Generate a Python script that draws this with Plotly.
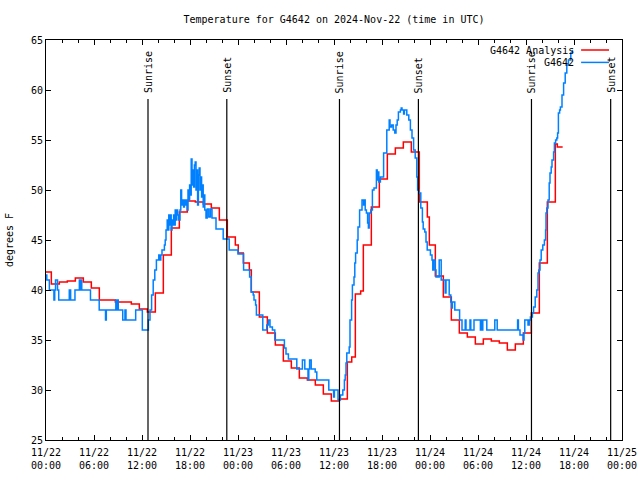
import pandas as pd
import plotly.graph_objects as go

# ---------------- data ----------------
BASE = "2024-11-22 00:00"
X_END = "2024-11-25 00:00"

tick_labels = ["11/22<br>00:00", "11/22<br>06:00", "11/22<br>12:00", "11/22<br>18:00",
               "11/23<br>00:00", "11/23<br>06:00", "11/23<br>12:00", "11/23<br>18:00",
               "11/24<br>00:00", "11/24<br>06:00", "11/24<br>12:00", "11/24<br>18:00",
               "11/25<br>00:00"]

# G4642 Analysis: hourly values, first one valid at 2024-11-21 23:40
analysis_first_time = "2024-11-21 23:40"
analysis_values = [41.8, 40.6, 40.8, 40.9, 41.2, 40.8, 40.2, 39.0, 39.0, 38.8,
                   38.8, 38.6, 38.1, 37.8, 39.7, 43.5, 46.2, 47.8, 48.9, 48.8,
                   48.6, 48.2, 47.0, 45.3, 44.5, 42.7, 39.8, 37.3, 35.7, 34.5,
                   32.9, 32.2, 31.2, 31.0, 30.5, 29.6, 28.9, 29.1, 32.8, 39.6,
                   44.5, 48.3, 51.1, 53.6, 54.2, 54.8, 53.8, 48.8, 47.3, 41.4,
                   39.3, 37.0, 35.7, 35.3, 34.6, 35.1, 34.9, 34.7, 34.0, 34.6,
                   35.7, 37.7, 42.7, 48.8, 54.6]
analysis_extra_times = ["2024-11-23 00:02", "2024-11-23 01:25", "2024-11-23 14:13",
                        "2024-11-23 15:20", "2024-11-23 23:55", "2024-11-24 15:55",
                        "2024-11-24 16:35"]
analysis_extra_values = [43.7, 42.0, 33.3, 39.9, 44.5, 54.3, 54.3]

# G4642 observations: hours after 2024-11-22 00:00 UTC
obs_hours = [0.00, 0.10, 0.42, 0.99, 1.09, 1.19, 1.44, 1.59, 2.91, 2.98,
             3.03, 3.08, 3.62, 4.17, 4.27, 4.37, 4.47, 5.56, 6.65, 7.44,
             7.54, 8.73, 8.83, 8.93, 9.03, 9.59, 9.87, 10.00, 11.21, 12.04,
             12.80, 13.00, 13.20, 13.40, 13.60, 13.80, 14.10, 14.25, 14.35, 14.50,
             14.80, 14.90, 15.00, 15.15, 15.25, 15.35, 15.45, 15.55, 15.65, 15.75,
             15.85, 15.95, 16.05, 16.15, 16.25, 16.35, 16.45, 16.60, 16.75, 16.85,
             16.95, 17.05, 17.20, 17.30, 17.40, 17.50, 17.65, 17.75, 17.85, 17.95,
             18.05, 18.15, 18.25, 18.35, 18.45, 18.55, 18.65, 18.75, 18.85, 18.95,
             19.05, 19.15, 19.25, 19.35, 19.45, 19.55, 19.65, 19.75, 19.85, 20.00,
             20.15, 20.35, 20.55, 20.75, 21.25, 22.15, 22.90, 24.00, 24.70, 25.45,
             25.65, 25.90, 26.00, 26.20, 26.30, 27.10, 27.60, 27.80, 28.00, 28.30,
             28.60, 29.80, 30.00, 30.30, 31.35, 32.05, 32.35, 32.75, 32.85, 32.95,
             33.15, 33.65, 33.85, 35.35, 35.95, 36.05, 36.50, 36.80, 37.10, 37.30,
             37.40, 37.50, 37.60, 37.90, 38.00, 38.20, 38.30, 38.50, 38.60, 38.70,
             38.90, 39.00, 39.20, 39.50, 39.70, 39.80, 39.90, 40.05, 40.20, 40.30,
             40.40, 40.60, 40.80, 41.00, 41.30, 41.40, 41.50, 41.60, 41.80, 42.20,
             42.60, 42.90, 43.00, 43.20, 43.40, 43.60, 43.75, 43.90, 44.05, 44.30,
             44.40, 44.50, 44.70, 44.80, 45.10, 45.35, 45.55, 45.75, 45.95, 46.15,
             46.35, 46.45, 46.60, 46.85, 47.05, 47.15, 47.35, 47.50, 47.65, 48.05,
             48.25, 48.35, 48.45, 48.65, 48.75, 49.15, 49.40, 49.90, 50.00, 50.40,
             50.60, 50.70, 50.80, 51.10, 51.70, 52.00, 52.40, 52.50, 53.00, 53.10,
             53.50, 54.30, 54.40, 54.50, 54.60, 55.10, 56.10, 56.40, 58.95, 59.05,
             59.25, 59.65, 59.75, 59.85, 60.25, 60.40, 60.55, 60.80, 60.95, 61.15,
             61.35, 61.50, 61.60, 61.75, 61.90, 62.10, 62.30, 62.45, 62.50, 62.60,
             62.75, 62.90, 63.00, 63.15, 63.25, 63.45, 63.55, 63.70, 63.85, 63.95,
             64.05, 64.20, 64.30, 64.50, 64.70, 64.90, 65.10, 65.30, 65.60, 65.80]
obs_values = [41.5, 41, 40, 39, 40, 41, 40, 39, 40, 39,
              40, 39, 40, 41, 40, 41, 40, 39, 38, 37,
              38, 39, 38, 39, 38, 37, 38, 37, 38, 36,
              37, 38, 39.5, 41, 42, 43, 43.5, 43, 43.5, 44,
              44.5, 45, 46, 47, 46, 47.5, 46.5, 47.5, 46, 47,
              46.5, 47.5, 46.5, 48, 47, 48, 47.5, 47, 48, 50,
              48.5, 49, 48.3, 49, 48.5, 49, 48, 50, 49, 50.5,
              49.5, 53.1, 50.5, 52, 50.3, 52.5, 52.8, 50, 52, 48.5,
              51.5, 52.2, 50, 51.3, 49.3, 50.5, 48.3, 49.5, 48, 47.2,
              48.1, 47.3, 48.1, 47.2, 46.1, 45.1, 44.0, 43.6, 42.0, 41.3,
              39.8, 39.5, 39, 38.5, 37.5, 36, 36.5, 37, 36.3, 36,
              35, 34.2, 33.6, 33.1, 32.1, 33, 32.1, 31, 32.1, 33,
              32.1, 31.8, 31, 30, 29.3, 30, 29, 29.5, 30, 31,
              31.5, 32.7, 33.7, 34.3, 37, 39, 40.5, 41.3, 42.7, 43.7,
              45, 46.3, 48, 49, 48.5, 49, 48, 47.7, 46.7, 46.2,
              47.7, 48, 50, 50.2, 52, 51, 51.8, 50.8, 51.3, 53.7,
              56, 57, 56.3, 56.5, 56, 55.7, 56.5, 57, 57.8, 58,
              58.2, 58, 57.6, 58, 57.5, 57, 56, 55.2, 54, 53.2,
              51.3, 50, 49.7, 48.2, 46.8, 46.1, 45.8, 44.8, 44, 43.5,
              43, 42, 43, 42, 41.3, 43, 41, 39.7, 41, 39.5,
              38.8, 38.2, 38.8, 38, 37, 36, 37, 36, 37, 36,
              37, 36, 37, 36, 37, 36, 37, 36, 37, 36,
              35.5, 35, 35.7, 37, 36.5, 37, 37.3, 37.7, 38.3, 39.3,
              40, 41.7, 42, 43, 44, 44.5, 45, 46, 47.7, 48.2,
              49, 50.7, 51.7, 52.3, 53, 53.8, 54.7, 55, 55.2, 55.7,
              57.7, 58, 58.3, 59.5, 60.7, 61.7, 62.5, 63, 63.7, 64]

sunrise_times = ["2024-11-22 12:45", "2024-11-23 12:41", "2024-11-24 12:41"]
sunset_times = ["2024-11-22 22:36", "2024-11-23 22:33", "2024-11-24 22:35"]

# ---------------- build ----------------
FONT = "DejaVu Sans Mono"
RED = "#ff0000"
BLUE = "#0080ff"

an_t = list(pd.date_range(analysis_first_time, periods=len(analysis_values), freq="h"))
an_t += list(pd.to_datetime(analysis_extra_times))
an = pd.DataFrame({"t": an_t, "v": analysis_values + analysis_extra_values}).sort_values("t")

obs_t = pd.Timestamp(BASE) + pd.to_timedelta(obs_hours, unit="h")

fig = go.Figure()
fig.add_trace(go.Scatter(x=an["t"], y=an["v"], mode="lines", name="G4642 Analysis",
                         line=dict(color=RED, width=1.5, shape="hv")))
fig.add_trace(go.Scatter(x=obs_t, y=obs_values, mode="lines", name="G4642",
                         line=dict(color=BLUE, width=1.5, shape="hv")))

for t in sunrise_times + sunset_times:
    fig.add_shape(type="line", xref="x", yref="y", x0=t, x1=t, y0=25, y1=59.1,
                  line=dict(color="black", width=1.2), layer="above")
for t, lab in [(s, "Sunrise") for s in sunrise_times] + [(s, "Sunset") for s in sunset_times]:
    fig.add_annotation(x=t, y=59.6, xref="x", yref="y", text=lab, showarrow=False,
                       textangle=-90, xanchor="center", yanchor="bottom",
                       font=dict(family=FONT, size=10, color="black"), borderpad=0)

# manual gnuplot-style key (text right-aligned, sample to the right)
key = [("G4642 Analysis", RED, 0.975), ("G4642", BLUE, 0.944)]
for text, col, yy in key:
    fig.add_annotation(x=0.918, y=yy, xref="paper", yref="paper", text=text,
                       showarrow=False, xanchor="right", yanchor="middle",
                       font=dict(family=FONT, size=10, color="black"), borderpad=0)
    fig.add_shape(type="line", xref="paper", yref="paper", x0=0.929, x1=0.9775,
                  y0=yy, y1=yy, line=dict(color=col, width=1.5))

fig.update_layout(
    width=640, height=480,
    margin=dict(l=46, r=18, t=40, b=40, autoexpand=False),
    paper_bgcolor="white", plot_bgcolor="white",
    showlegend=False,
    font=dict(family=FONT, size=10, color="black"),
    title=dict(text="Temperature for G4642 on 2024-Nov-22 (time in UTC)",
               x=0.5, xref="paper", xanchor="center",
               y=1 - 19 / 480, yref="container", yanchor="middle",
               font=dict(family=FONT, size=10, color="black")),
)
fig.update_xaxes(
    type="date", range=[BASE, X_END], automargin=False,
    tickmode="array", tickvals=pd.date_range(BASE, X_END, freq="6h"), ticktext=tick_labels,
    ticks="inside", ticklen=5, tickcolor="black", tickwidth=1, ticklabelstandoff=3,
    showline=True, linecolor="black", linewidth=1, mirror="ticks",
    showgrid=False, zeroline=False,
    minor=dict(ticks="inside", ticklen=3, tickcolor="black", tick0=BASE,
               dtick=2 * 3600 * 1000, showgrid=False),
    tickfont=dict(family=FONT, size=10, color="black"),
)
fig.update_yaxes(
    range=[25, 65], tick0=25, dtick=5, automargin=False,
    ticks="inside", ticklen=5, tickcolor="black", tickwidth=1,
    showline=True, linecolor="black", linewidth=1, mirror="ticks",
    showgrid=False, zeroline=False,
    tickfont=dict(family=FONT, size=10, color="black"),
    title=dict(text="degrees F", standoff=15, font=dict(family=FONT, size=10, color="black")),
)

fig.write_html("out.html", config={"displayModeBar": False},
               post_script="document.body.style.margin='0';")
